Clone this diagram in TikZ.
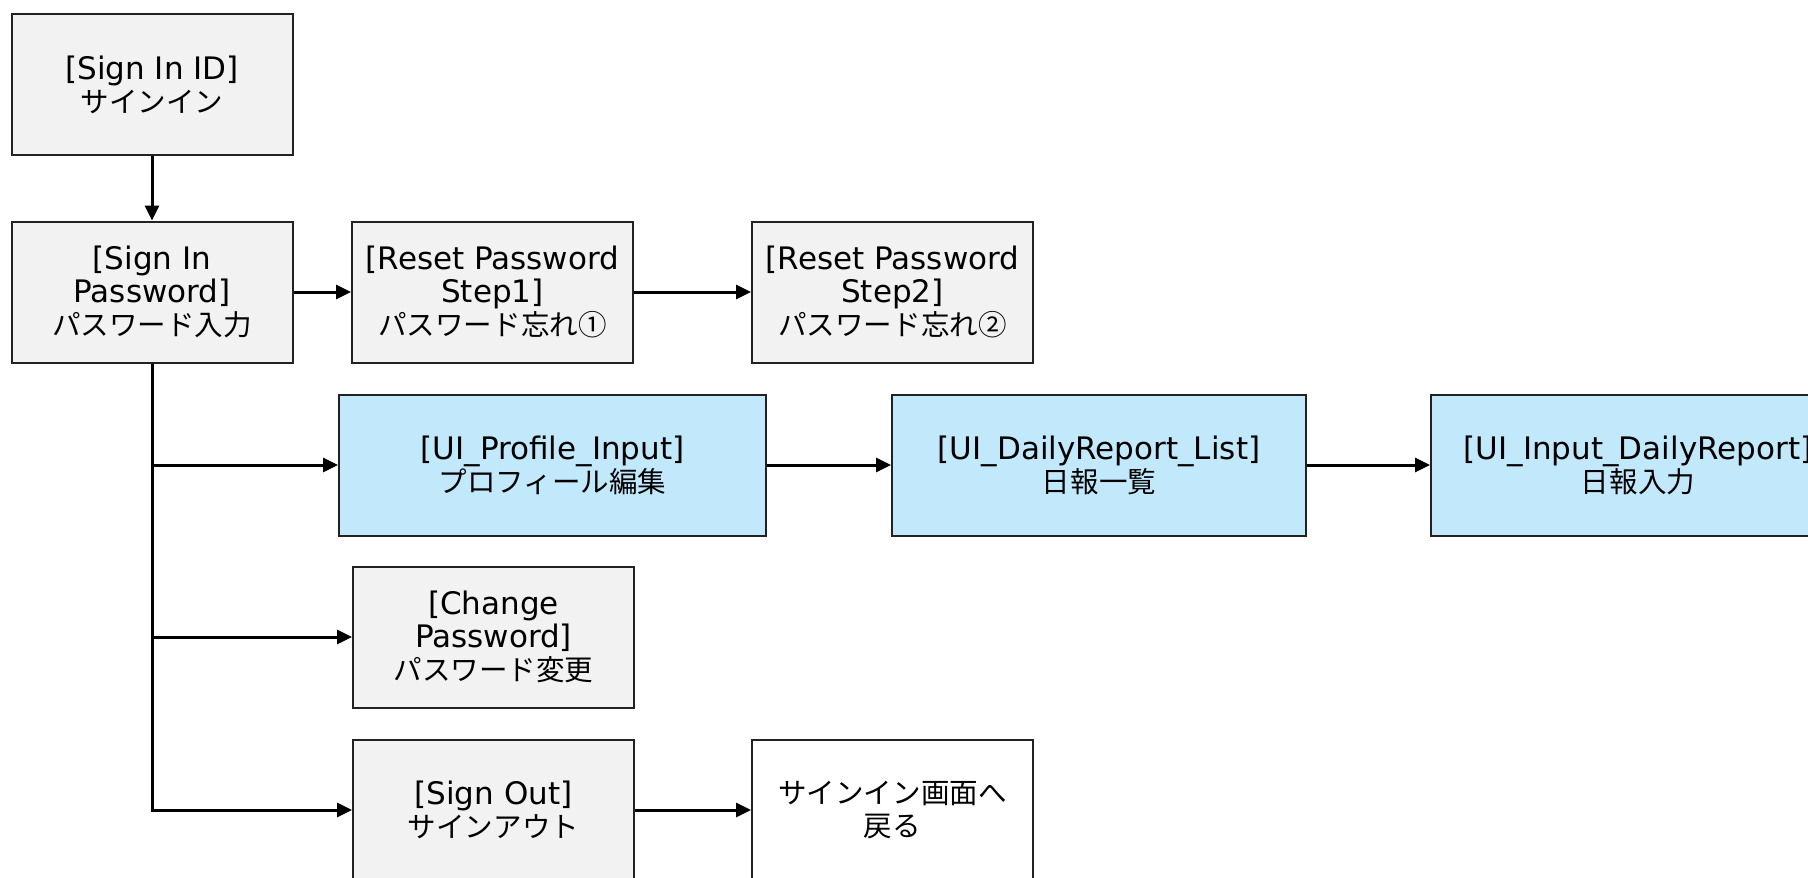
\documentclass[tikz,border=0pt]{standalone}
\usepackage{fontspec}
\setmainfont{DejaVu Sans}
\newfontfamily\jp{Noto Sans CJK JP}[Scale=0.92]
\usetikzlibrary{arrows.meta}
\definecolor{grayfill}{HTML}{F2F2F2}
\definecolor{bluefill}{HTML}{C1E8FB}
\definecolor{edge}{HTML}{222222}
\tikzset{
  x=1pt,y=-1pt,
  box/.style={draw=edge,line width=2pt,inner sep=0pt,minimum height=141pt,
    align=center,font=\fontsize{31}{33}\selectfont},
  grybox/.style={box,fill=grayfill,minimum width=281pt},
  bluebox/.style={box,fill=bluefill},
  whtbox/.style={box,fill=white,minimum width=281pt},
  conn/.style={line width=3pt,-{Triangle[length=15pt,width=14pt]}}
}
\begin{document}
\begin{tikzpicture}
\clip (0,0) rectangle (1808,878);
\fill[white] (0,0) rectangle (1808,878);
\node[grybox] (signid) at (152,84.5) {[Sign In ID]\\{\jp サインイン}};
\node[grybox] (signpw) at (152,292) {[Sign In\\Password]\\{\jp パスワード入力}};
\node[grybox] (reset1) at (492.5,292) {[Reset Password\\Step1]\\{\jp パスワード忘れ①}};
\node[grybox] (reset2) at (892.5,292) {[Reset Password\\Step2]\\{\jp パスワード忘れ②}};
\node[bluebox,minimum width=427pt] (profile) at (552.5,465) {[UI\_Profile\_Input]\\{\jp プロフィール編集}};
\node[bluebox,minimum width=414pt] (dlist) at (1099,465) {[UI\_DailyReport\_List]\\{\jp 日報一覧}};
\node[bluebox,minimum width=414pt] (dinput) at (1638,465) {[UI\_Input\_DailyReport]\\{\jp 日報入力}};
\node[grybox] (changepw) at (493.5,637) {[Change\\Password]\\{\jp パスワード変更}};
\node[grybox] (signout) at (493.5,810) {[Sign Out]\\{\jp サインアウト}};
\node[whtbox] (back) at (892.5,810) {{\jp サインイン画面へ}\\{\jp 戻る}};
\draw[conn] (signid) -- (signpw);
\draw[conn] (signpw) -- (reset1);
\draw[conn] (reset1) -- (reset2);
\draw[conn] (signpw.south) |- (profile.west);
\draw[conn] (signpw.south) |- (changepw.west);
\draw[conn] (signpw.south) |- (signout.west);
\draw[conn] (profile) -- (dlist);
\draw[conn] (dlist) -- (dinput);
\draw[conn] (signout) -- (back);
\end{tikzpicture}
\end{document}
